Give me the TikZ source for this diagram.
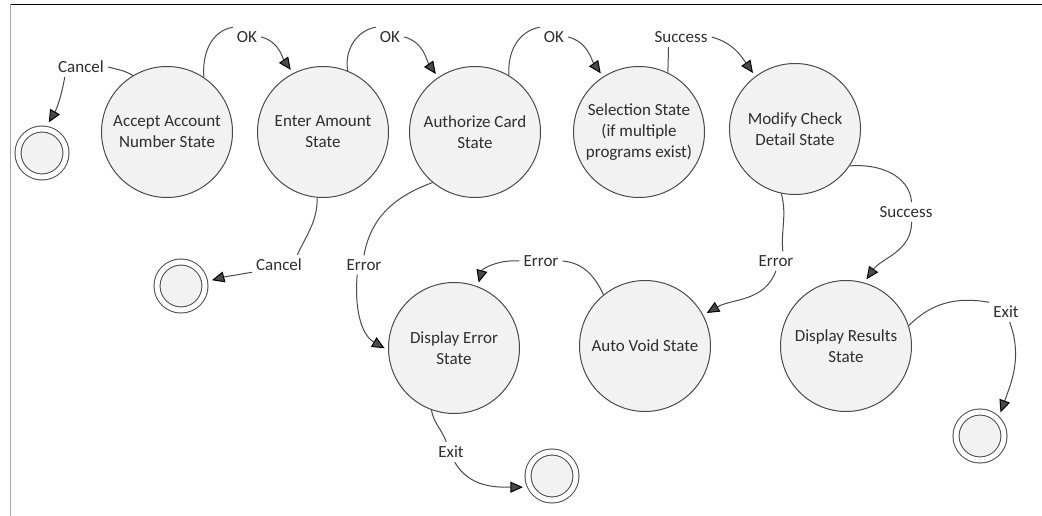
\documentclass[tikz,border=0pt]{standalone}
\usepackage{fontspec}
\setmainfont{Carlito}
\usepackage{xcolor}
\usetikzlibrary{automata, positioning, arrows.meta}
\definecolor{wire}{HTML}{4A4A4A}
\definecolor{statefill}{HTML}{F2F2F2}
\definecolor{ink}{HTML}{2E2E2E}
\tikzset{
>={Triangle[length=12.5pt,width=11pt,color=black]}, % filled black triangle heads
every state/.style={draw=wire, fill=statefill, line width=1pt, minimum size=131pt, inner sep=0pt, align=center, text=ink}, % the big states
accepting/.style={double=white, double distance=5pt, minimum size=48pt, outer sep=3.5pt}, % end states
lbl/.style={inner sep=4pt, text=ink}, % text on a connector
arr/.style={->, shorten >=4pt}, % second half of a connector
}

\begin{document}
\begin{tikzpicture}[x=1pt, y=-1pt, font=\fontsize{17}{21}\selectfont]
\useasboundingbox (0,0) rectangle (1042,516);
\draw[line width=1.5pt] (10,4.5) -- (1042,4.5);
\draw[gray!70, line width=1pt] (10,4.5) -- (10,516);

\node[state] (AA) at (167,132) {Accept Account\\Number State};
\node[state] (EA) at (323,132) {Enter Amount\\State};
\node[state] (AC) at (475,132) {Authorize Card\\State};
\node[state] (SS) at (639,132) {Selection State\\(if multiple\\programs exist)};
\node[state] (MC) at (795,129) {Modify Check\\Detail State};
\node[state] (DE) at (454,348) {Display Error\\State};
\node[state] (AV) at (645,346) {Auto Void State};
\node[state] (DR) at (846,346) {Display Results\\State};
\node[state, accepting] (F1) at (42,153) {};
\node[state, accepting] (F2) at (181,286) {};
\node[state, accepting] (F3) at (552,476) {};
\node[state, accepting] (F4) at (980,436) {};

\node[lbl] (c1) at (81,67) {Cancel};
\node[lbl] (ok1) at (247,37) {OK};
\node[lbl] (ok2) at (390,37) {OK};
\node[lbl] (ok3) at (554,37) {OK};
\node[lbl] (s1) at (681,37) {Success};
\node[lbl] (s2) at (906,212) {Success};
\node[lbl] (e1) at (776,261) {Error};
\node[lbl] (e2) at (541,261) {Error};
\node[lbl] (e3) at (364,265) {Error};
\node[lbl] (c2) at (279,265) {Cancel};
\node[lbl] (x1) at (451,452) {Exit};
\node[lbl] (x2) at (1006,312) {Exit};

\draw[wire, line width=1pt]
(AA.121) edge[out=150, in=-15] (c1.east)
(c1.212) edge[arr, out=-100, in=60] (F1.80)
(AA.56) edge[out=95, in=190] (ok1.north west)
(ok1.east) edge[arr, out=-15, in=125] (EA.117)
(EA.68) edge[out=100, in=190] (ok2.north west)
(ok2.east) edge[arr, out=-15, in=125] (AC.124)
(AC.59) edge[out=95, in=190] (ok3.north west)
(ok3.east) edge[arr, out=-15, in=125] (SS.123)
(SS.64) edge[out=90, in=-90] (s1.218)
(s1.east) edge[arr, out=-15, in=125] (MC.127)
(MC.-34) edge[out=5, in=95] (s2.60)
(s2.-60) edge[arr, out=-90, in=55] (DR.74)
(MC.258) edge[out=-75, in=95] (e1.55)
(e1.south) edge[arr, out=-110, in=30] (AV.28)
(AV.129) edge[out=115, in=-5] (e2.east)
(e2.west) edge[arr, out=175, in=75] (DE.69)
(AC.230) edge[out=200, in=80] (e3.north)
(e3.235) edge[arr, out=-95, in=150] (DE.182)
(EA.265) edge[out=-90, in=65] (c2.29)
(c2.195) edge[arr, out=190, in=15] (F2.10)
(DE.250) edge[out=-80, in=110] (x1.115)
(x1.-70) edge[arr, out=-60, in=180] (F3.204)
(DR.18) edge[out=45, in=170] (x2.150)
(x2.-70) edge[arr, out=-70, in=70] (F4.46);
\end{tikzpicture}
\end{document}
